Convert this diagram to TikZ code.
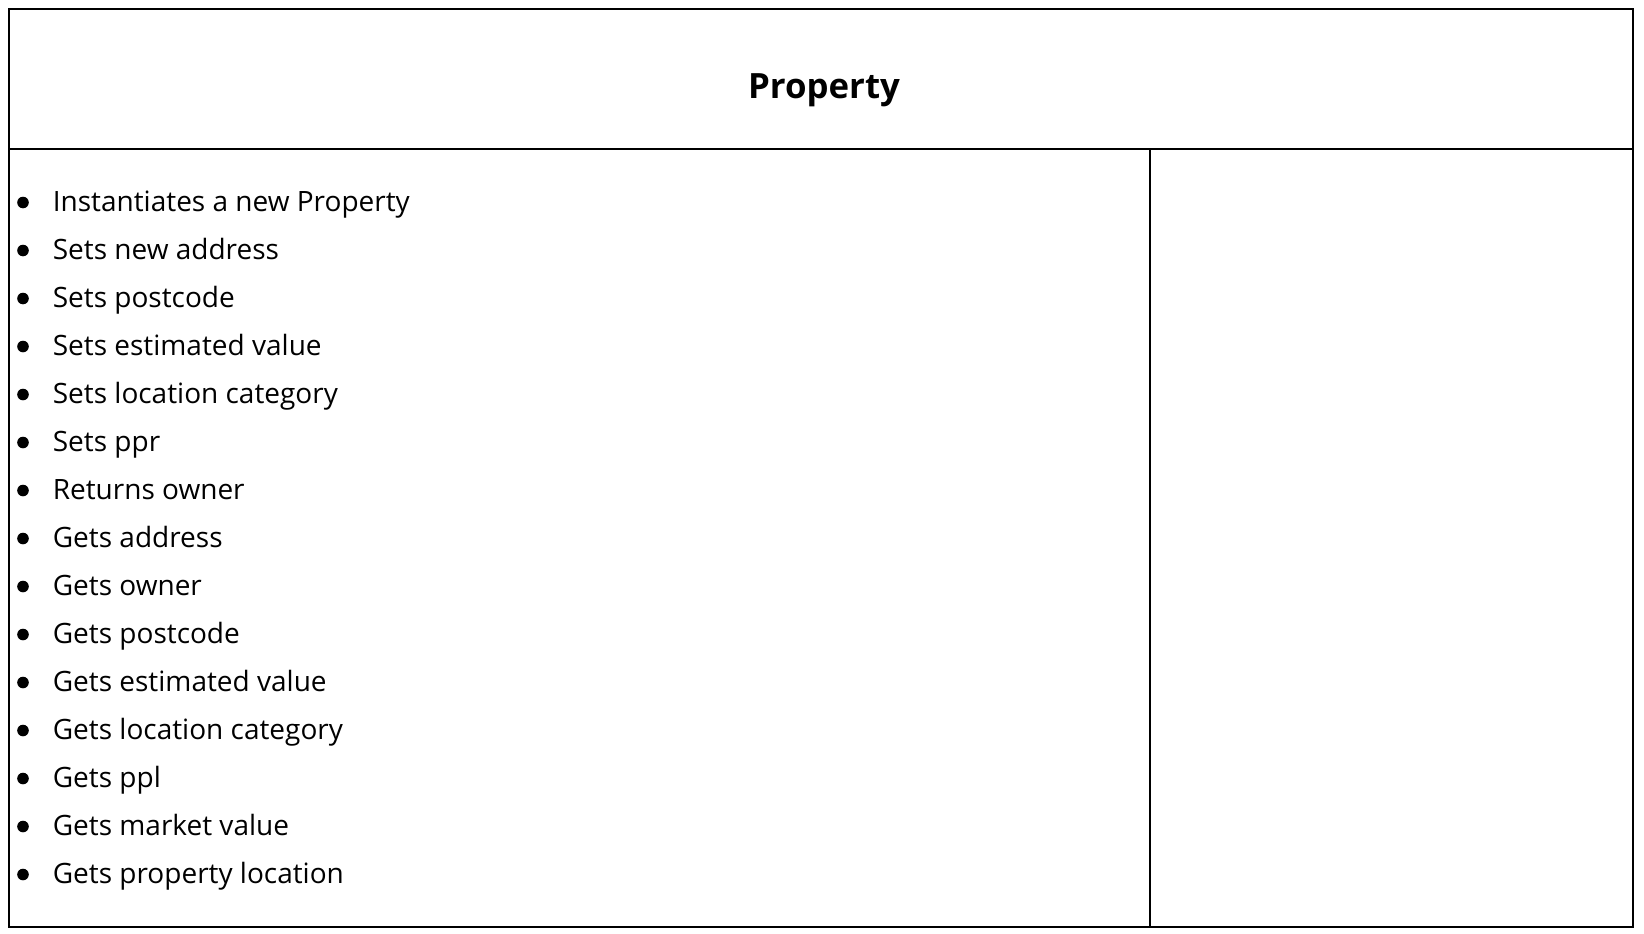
\documentclass[tikz,border=0pt]{standalone}
\usepackage{fontspec}
\setmainfont{Open Sans}

\begin{document}
\begin{tikzpicture}[x=1pt,y=-1pt,line width=1.7pt]
        \useasboundingbox (0,0) rectangle (1644,934);
        % Contour de la carte
        \draw (9,9) rectangle (1633,927);
        % Séparations (titre, puis colonnes)
        \draw (9,149) -- (1633,149);
        \draw (1150,149) -- (1150,927);
        % Titre
        \node[anchor=base, inner sep=0pt, font=\fontsize{34.8}{40}\selectfont\bfseries] (titre) at (824,99) {Property};
        % Responsabilités
        \foreach \txt [count=\i from 0] in {Instantiates a new Property, Sets new address, Sets postcode,
            Sets estimated value, Sets location category, Sets ppr, Returns owner, Gets address,
            Gets owner, Gets postcode, Gets estimated value, Gets location category, Gets ppl,
            Gets market value, Gets property location} {
            \fill (23,202.5+48*\i) circle (5.8);
            \node[anchor=base west, inner sep=0pt, font=\fontsize{28}{32}\selectfont] (resp\i) at (52,211.5+48*\i) {\txt};
        }
    \end{tikzpicture}
\end{document}
